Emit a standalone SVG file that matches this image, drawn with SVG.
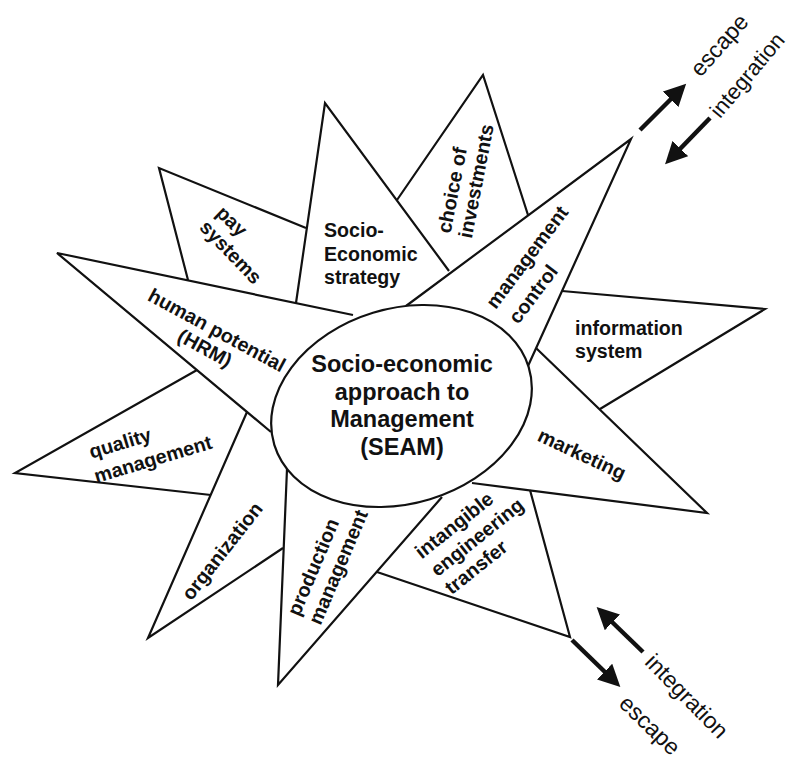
<svg xmlns="http://www.w3.org/2000/svg" width="790" height="759" viewBox="0 0 790 759">
<style>
.edge{fill:none;stroke:#111;stroke-width:2.2;stroke-linejoin:miter}
.lbl{font-family:"Liberation Sans",Arial,sans-serif;font-weight:bold;font-size:19.8px;fill:#111;text-anchor:middle}
.lft{font-family:"Liberation Sans",Arial,sans-serif;fill:#111}
.b{font-weight:bold;font-size:19.6px}
.ctr{font-family:"Liberation Sans",Arial,sans-serif;font-weight:bold;font-size:23.5px;fill:#111;text-anchor:middle}
.flow{font-family:"Liberation Sans",Arial,sans-serif;font-size:23px;fill:#111;text-anchor:middle}
.arrow{stroke:#111;stroke-width:4.5;fill:none}
</style>
<defs>
<marker id="ah" markerUnits="userSpaceOnUse" markerWidth="24" markerHeight="22" refX="2" refY="11" orient="auto">
<path d="M0,0 L22,11 L0,22 z" fill="#111"/>
</marker>
</defs>
<rect width="790" height="759" fill="#fff"/>

<g id="pay-systems">
<polyline class="edge" points="188,280 159,168 306,228"/>
<text class="lbl" dy="0.35em" transform="translate(232,221) rotate(44)">pay</text>
<text class="lbl" dy="0.35em" transform="translate(231,252) rotate(46)">systems</text>
</g>
<g id="socio-economic-strategy">
<polyline class="edge" points="296,303 325,103 449,271"/>
<text class="lft b" x="324" y="237">Socio-</text>
<text class="lft b" x="324" y="261">Economic</text>
<text class="lft b" x="324" y="284">strategy</text>
</g>
<g id="choice-of-investments">
<polyline class="edge" points="397,200 483,75 528,215"/>
<text class="lbl" dy="0.35em" transform="translate(452,190) rotate(-79)">choice of</text>
<text class="lbl" dy="0.35em" transform="translate(476,181) rotate(-79)">investments</text>
</g>
<g id="management-control">
<polyline class="edge" points="406,306 631,139 528,366"/>
<text class="lbl" dy="0.35em" transform="translate(527,257) rotate(-53)">management</text>
<text class="lbl" dy="0.35em" transform="translate(533,294) rotate(-53)">control</text>
</g>
<g id="information-system">
<polyline class="edge" points="562,291 765,309 600,409"/>
<text class="lft b" x="575" y="335">information</text>
<text class="lft b" x="575" y="358">system</text>
</g>
<g id="marketing">
<polyline class="edge" points="536,348 707,513 472,483"/>
<text class="lbl" dy="0.35em" transform="translate(582,454) rotate(25)">marketing</text>
</g>
<g id="intangible-engineering-transfer">
<polyline class="edge" points="377,572 570,637 530,490"/>
<text class="lbl" dy="0.35em" transform="translate(454,525) rotate(-38.5)">intangible</text>
<text class="lbl" dy="0.35em" transform="translate(477,537) rotate(-38.5)">engineering</text>
<text class="lbl" dy="0.35em" transform="translate(476,567) rotate(-38.5)">transfer</text>
</g>
<g id="production-management">
<polyline class="edge" points="287,469 278,685 442,497"/>
<text class="lbl" dy="0.35em" transform="translate(313,567) rotate(-67)">production</text>
<text class="lbl" dy="0.35em" transform="translate(338,567) rotate(-67)">management</text>
</g>
<g id="organization">
<polyline class="edge" points="247,412 148,638 283,548"/>
<text class="lbl" dy="0.35em" transform="translate(222,551) rotate(-52)">organization</text>
</g>
<g id="quality-management">
<polyline class="edge" points="197,370 15,473 211,495"/>
<text class="lbl" dy="0.35em" transform="translate(120,443) rotate(-16.7)">quality</text>
<text class="lbl" dy="0.35em" transform="translate(153,459) rotate(-16.7)">management</text>
</g>
<g id="human-potential">
<polyline class="edge" points="353,315 57,253 271,432"/>
<text class="lbl" dy="0.35em" transform="translate(217,330) rotate(28.5)">human potential</text>
<text class="lbl" dy="0.35em" transform="translate(205,348) rotate(28.5)">(HRM)</text>
</g>
<g id="seam">
<ellipse cx="401.5" cy="406" rx="133" ry="97.5" transform="rotate(-17 401.5 406)" fill="#fff" stroke="#111" stroke-width="2.2"/>
<text class="ctr" x="402" y="372">Socio-economic</text>
<text class="ctr" x="402" y="400">approach to</text>
<text class="ctr" x="402" y="427">Management</text>
<text class="ctr" x="402" y="455">(SEAM)</text>
</g>

<g id="connectors">
<line class="arrow" x1="640" y1="130" x2="672" y2="98" marker-end="url(#ah)"/>
<line class="arrow" x1="710" y1="118" x2="679" y2="150" marker-end="url(#ah)"/>
<line class="arrow" x1="572" y1="640" x2="606" y2="673" marker-end="url(#ah)"/>
<line class="arrow" x1="643" y1="652" x2="611" y2="621" marker-end="url(#ah)"/>
</g>
<g id="flow-labels">
<text class="flow" dy="0.35em" transform="translate(719,45) rotate(-48.5)">escape</text>
<text class="flow" style="font-size:22px" dy="0.35em" transform="translate(747,75) rotate(-50)">integration</text>
<text class="flow" dy="0.35em" transform="translate(687,696) rotate(45.6)">integration</text>
<text class="flow" dy="0.35em" transform="translate(650,725) rotate(44)">escape</text>
</g>
</svg>
